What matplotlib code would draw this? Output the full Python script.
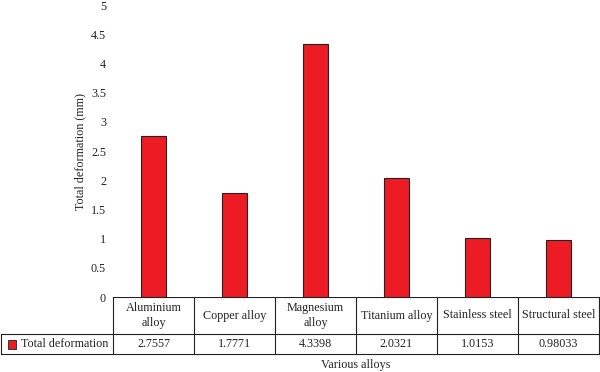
import matplotlib.pyplot as plt
from matplotlib.lines import Line2D

plt.rcParams["font.family"] = ["Liberation Serif", "DejaVu Serif"]

# Data
alloys = ["Aluminium\nalloy", "Copper alloy", "Magnesium\nalloy",
          "Titanium alloy", "Stainless steel", "Structural steel"]
deformation = [2.7557, 1.7771, 4.3398, 2.0321, 1.0153, 0.98033]
value_labels = ["2.7557", "1.7771", "4.3398", "2.0321", "1.0153", "0.98033"]
series_name = "Total deformation"
yticks = [0, 0.5, 1, 1.5, 2, 2.5, 3, 3.5, 4, 4.5, 5]
ytick_labels = ["0", "0.5", "1", "1.5", "2", "2.5", "3", "3.5", "4", "4.5", "5"]

bar_color = "#ED1C24"
W, H = 600, 372
fs = 8.7
tc = "#222222"

fig = plt.figure(figsize=(6, 3.72), dpi=100)

# bar axes (pixel layout: x 113..599, y 297 (zero) .. 5 (five))
x0, x1, y0, y1 = 113, 599, 297, 5
ax = fig.add_axes([x0 / W, 1 - y0 / H, (x1 - x0) / W, (y0 - y1) / H])
pos = list(range(len(alloys)))
ax.bar(pos, deformation, width=0.32, color=bar_color, edgecolor=tc, linewidth=0.8)
ax.set_xlim(-0.5, len(alloys) - 0.5)
ax.set_ylim(0, 5)
ax.set_yticks(yticks)
ax.set_yticklabels(ytick_labels, fontsize=fs, color=tc)
ax.tick_params(axis="y", length=0, pad=5)
ax.set_xticks([])
for s in ax.spines.values():
    s.set_visible(False)
ax.set_ylabel("Total deformation (mm)", fontsize=fs, color=tc)
ax.yaxis.set_label_coords((86 - x0) / (x1 - x0), 0.5)

# table drawn in pixel coordinates
tb = fig.add_axes([0, 0, 1, 1], zorder=-1)
tb.set_xlim(0, W)
tb.set_ylim(H, 0)
tb.axis("off")
col_w = (x1 - x0) / len(alloys)
r_top, r_mid, r_bot = 297, 334, 354
lw = 0.8
tb.add_line(Line2D([x0, x1], [r_top, r_top], color=tc, lw=lw))
tb.add_line(Line2D([1, x1], [r_mid, r_mid], color=tc, lw=lw))
tb.add_line(Line2D([1, x1], [r_bot, r_bot], color=tc, lw=lw))
tb.add_line(Line2D([1, 1], [r_mid, r_bot], color=tc, lw=lw))
for i in range(len(alloys) + 1):
    xx = x0 + i * col_w
    tb.add_line(Line2D([xx, xx], [r_top, r_bot], color=tc, lw=lw))
for i, (name, val) in enumerate(zip(alloys, value_labels)):
    cx = x0 + (i + 0.5) * col_w
    tb.text(cx, (r_top + r_mid) / 2, name, ha="center", va="center",
            fontsize=fs, color=tc, linespacing=1.25)
    tb.text(cx, (r_mid + r_bot) / 2, val, ha="center", va="center",
            fontsize=fs, color=tc)
# legend key in the data row
tb.add_patch(plt.Rectangle((8, 340), 8, 9, facecolor=bar_color, edgecolor=tc, lw=0.6))
tb.text(21, (r_mid + r_bot) / 2, series_name, ha="left", va="center",
        fontsize=fs, color=tc)
tb.text((x0 + x1) / 2, 365, "Various alloys", ha="center", va="center",
        fontsize=fs, color=tc)

fig.savefig("out.png", dpi=100)
